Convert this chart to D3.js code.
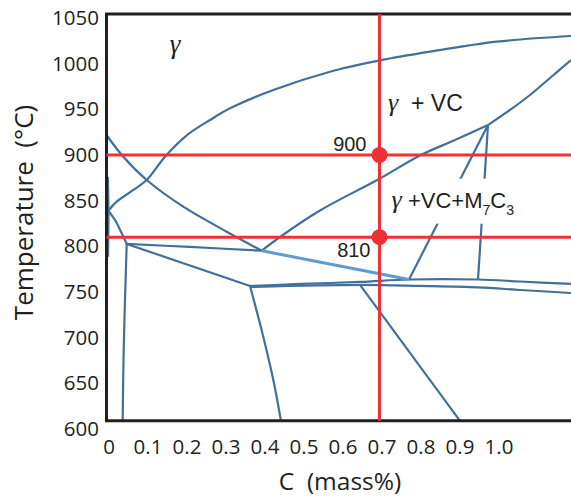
<!DOCTYPE html>
<html><head><meta charset="utf-8">
<script src="https://cdn.jsdelivr.net/npm/d3@7"></script>
<style>body{margin:0;background:#fff}svg{display:block}</style>
</head><body><svg id="chart" width="571" height="497"></svg>
<script>
// Vertical section of an Fe–V–C system: temperature (°C) against carbon (mass%)
const xTicks = [0, 0.1, 0.2, 0.3, 0.4, 0.5, 0.6, 0.7, 0.8, 0.9, 1.0];
const yTicks = [600, 650, 700, 750, 800, 850, 900, 950, 1000, 1050];
const markC = 0.7;
const markT = [900, 810];

// phase boundaries, [C mass%, T °C]
const vcSolvus = [[0.0046,839.0],[0.0262,848.9],[0.0687,861.7],[0.1031,872.6],[0.15,898.1],[0.2057,921.5],[0.2654,938.3],[0.3167,951.1],[0.4277,971.2],[0.5731,991.2],[0.6987,1003.3],[0.8295,1013.1],[1.0005,1024.1],[1.191,1030.3]];
const a3Line = [[0,921.9],[0.0431,898.1],[0.1031,872.6],[0.1969,843.4],[0.3082,816.0],[0.398,795.2]];
const m7c3Lower = [[0.398,795.2],[0.4449,810.2],[0.5474,839.2],[0.7013,874.3],[0.8038,899.5],[0.8936,916.4],[0.9782,932.8]];
const m7c3Upper = [[0.9782,932.8],[1.0346,949.3],[1.0859,965.7],[1.1372,984.3],[1.191,1004.0]];
const tieA = [[0.9782,932.8],[0.7756,763.7]];
const tieB = [[0.9782,932.8],[0.9526,763.7]];
const eutectoidTie = [[0.398,795.2],[0.7756,763.7]];
const ferriteTop = [[0.0518,802.6],[0.2141,799.3],[0.398,795.2]];
const ferriteSlope = [[0.0518,802.6],[0.368,756.6]];
const ferriteSolvus = [[0.0518,802.6],[0.0474,741.2],[0.0436,675.5],[0.0415,609]];
const cuspLine = [[0.0046,839.0],[0.0218,828.8],[0.039,814.3],[0.0518,802.6]];
const edgeLine = [[0.0033,876.2],[0.005,839.2],[0.0038,788.6]];
const upperTie = [[0.368,756.6],[0.4962,758.8],[0.65,761.0],[0.7756,763.7],[0.9526,763.7],[1.0603,761.5],[1.191,758.8]];
const lowerTie = [[0.368,755.5],[0.65,757.7],[0.8038,756.6],[0.9526,755.0],[1.0603,752.2],[1.191,748.9]];
const carbideSolvus = [[0.65,757.7],[0.9064,609]];
const ferriteRight = [[0.368,756.6],[0.402,701.1],[0.4277,653.7],[0.4474,609]];

const xFrame = [0, 1.2];
const yFrame = [609, 1054.4];

const svg = d3.select('#chart');
const x = d3.scaleLinear().domain([0, 1]).range([106.5, 496.5]);
const y = d3.scaleLinear().domain([600, 1050]).range([429, 18]);

const BLUE = '#41709b', LIGHT = '#5d9bd3', RED = '#ee3135', INK = '#231f20';
const tickFont = '"Open Sans", sans-serif';
const noteFont = '"Liberation Sans", Arial, sans-serif';
const greek = '"Liberation Serif", "DejaVu Serif", serif';

const smooth = d3.line().x(d => x(d[0])).y(d => y(d[1])).curve(d3.curveCatmullRom.alpha(0.5));
const straight = d3.line().x(d => x(d[0])).y(d => y(d[1]));

const boundaries = [
  [vcSolvus, smooth], [a3Line, smooth], [m7c3Lower, smooth], [m7c3Upper, smooth],
  [tieA, straight], [tieB, straight], [ferriteTop, smooth], [ferriteSlope, straight],
  [ferriteSolvus, smooth], [cuspLine, smooth], [edgeLine, smooth], [upperTie, smooth],
  [lowerTie, smooth], [carbideSolvus, straight], [ferriteRight, smooth]
];

const g = svg.append('g');
g.selectAll('path.b').data(boundaries).join('path')
  .attr('class', 'b')
  .attr('d', d => d[1](d[0]))
  .attr('fill', 'none').attr('stroke', BLUE).attr('stroke-width', 2.2)
  .attr('stroke-linejoin', 'round');

g.append('path').attr('d', straight(eutectoidTie))
  .attr('fill', 'none').attr('stroke', LIGHT).attr('stroke-width', 3);

// three-phase field label, set on a white plate
const m7 = svg.append('g');
const m7Text = m7.append('text')
  .attr('x', x(0.731)).attr('y', y(842.3))
  .attr('font-family', noteFont).attr('font-size', 22).attr('fill', INK);
m7Text.append('tspan').attr('font-family', greek).attr('font-style', 'italic').attr('font-size', 26).text('γ');
m7Text.append('tspan').text(' +VC+M');
m7Text.append('tspan').attr('font-size', 14).attr('dy', 7).text('7');
m7Text.append('tspan').attr('dy', -7).text('C');
m7Text.append('tspan').attr('font-size', 14).attr('dy', 7).text('3');
const bb = m7Text.node().getBBox();
m7.insert('rect', 'text')
  .attr('x', bb.x - 2).attr('y', bb.y - 6).attr('width', bb.width + 4).attr('height', bb.height + 12)
  .attr('fill', '#fff');

// frame
svg.append('path')
  .attr('d', `M${x(xFrame[1])},${y(yFrame[1])}H${x(xFrame[0])}V${y(yFrame[0])}H${x(xFrame[1])}`)
  .attr('fill', 'none').attr('stroke', INK).attr('stroke-width', 3);

// axes
const yAxis = svg.append('g').attr('transform', `translate(${x(0)},0)`)
  .call(d3.axisLeft(y).tickValues(yTicks).tickSize(0).tickPadding(7.5).tickFormat(d3.format('d')));
yAxis.select('.domain').remove();
yAxis.selectAll('text').attr('font-family', tickFont).attr('font-size', 20.5).attr('fill', INK);

const xAxis = svg.append('g').attr('transform', `translate(0,${y(yFrame[0])})`)
  .call(d3.axisBottom(x).tickValues(xTicks).tickSize(0).tickPadding(19)
    .tickFormat(d => d === 0 ? '0' : d3.format('.1f')(d)));
xAxis.select('.domain').remove();
xAxis.selectAll('text').attr('font-family', tickFont).attr('font-size', 20.5).attr('fill', INK).attr('dx', 2);

svg.append('text')
  .attr('transform', `translate(33,${(y(yTicks[0]) + y(yTicks[yTicks.length-1])) / 2 - 11}) rotate(-90)`)
  .attr('text-anchor', 'middle').attr('font-family', tickFont).attr('font-size', 26).attr('fill', INK)
  .attr('xml:space', 'preserve').text('Temperature  (°C)');

svg.append('text')
  .attr('x', 340).attr('y', 490)
  .attr('text-anchor', 'middle').attr('font-family', tickFont).attr('font-size', 24.5).attr('fill', INK)
  .attr('xml:space', 'preserve').text('C  (mass%)');

// red guide lines at C = 0.7 and the two temperatures
svg.selectAll('line.h').data(markT).join('line').attr('class', 'h')
  .attr('x1', x(xFrame[0])).attr('x2', x(xFrame[1]))
  .attr('y1', d => y(d)).attr('y2', d => y(d))
  .attr('stroke', RED).attr('stroke-width', 3);
svg.append('line')
  .attr('x1', x(markC)).attr('x2', x(markC))
  .attr('y1', y(yFrame[0])).attr('y2', y(yFrame[1]))
  .attr('stroke', RED).attr('stroke-width', 3);
svg.selectAll('circle.m').data(markT).join('circle').attr('class', 'm')
  .attr('cx', x(markC)).attr('cy', d => y(d)).attr('r', 8).attr('fill', RED);

// temperature callouts
svg.append('text').attr('x', x(markC) - 13).attr('y', y(markT[0]) - 4.5)
  .attr('text-anchor', 'end').attr('font-family', noteFont).attr('font-size', 20).attr('fill', INK)
  .text(markT[0]);
svg.append('text').attr('x', x(markC) - 9).attr('y', y(markT[1]) + 20)
  .attr('text-anchor', 'end').attr('font-family', noteFont).attr('font-size', 20).attr('fill', INK)
  .text(markT[1]);

// phase field labels
svg.append('text').attr('x', x(0.1756)).attr('y', y(1011.7))
  .attr('text-anchor', 'middle').attr('font-family', greek).attr('font-style', 'italic')
  .attr('font-size', 27).attr('fill', INK).text('γ');

const vc = svg.append('text').attr('x', x(0.7218)).attr('y', y(948.2))
  .attr('font-family', noteFont).attr('font-size', 23).attr('fill', INK).attr('xml:space', 'preserve');
vc.append('tspan').attr('font-family', greek).attr('font-style', 'italic').attr('font-size', 26).text('γ');
vc.append('tspan').text('  + VC');
</script></body></html>
